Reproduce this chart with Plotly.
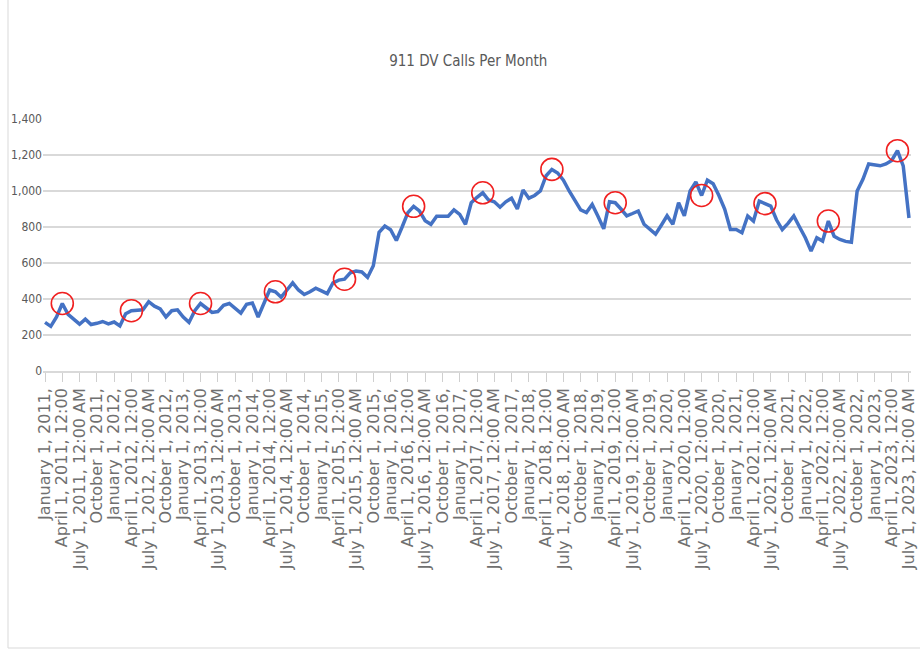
import plotly.graph_objects as go
import pandas as pd

# Monthly categories: January 2011 .. July 2023
months = pd.date_range("2011-01-01", "2023-07-01", freq="MS")

calls = [
    270, 248, 300, 375, 315, 290, 260, 288, 258, 265, 275, 262,   # 2011
    272, 250, 318, 335, 338, 340, 385, 360, 345, 300, 335, 340,   # 2012
    300, 270, 335, 375, 350, 325, 330, 365, 375, 350, 322, 370,   # 2013
    378, 300, 380, 450, 440, 410, 450, 490, 450, 425, 440, 460,   # 2014
    445, 430, 490, 505, 510, 545, 555, 550, 520, 585, 770, 805,   # 2015
    785, 725, 800, 880, 915, 890, 835, 815, 860, 862, 860, 895,   # 2016
    870, 815, 935, 965, 990, 950, 940, 910, 940, 960, 900, 1005,  # 2017
    960, 975, 1000, 1085, 1120, 1100, 1060, 1000, 945, 895, 880, 925,  # 2018
    860, 790, 940, 935, 900, 862, 875, 889, 815, 790, 760, 810,   # 2019
    862, 815, 935, 862, 1000, 1050, 975, 1060, 1040, 975, 900, 786,  # 2020
    786, 768, 861, 833, 944, 930, 916, 840, 786, 820, 861, 800,   # 2021
    740, 666, 740, 722, 833, 749, 731, 720, 715, 1000, 1065, 1150,  # 2022
    1145, 1140, 1150, 1170, 1224, 1140, 850,                      # 2023
]

# indices of the hand-marked peaks (red circles)
circled = [3, 15, 27, 40, 52, 64, 76, 88, 99, 114, 125, 136, 148]

y_ticks = [0, 200, 400, 600, 800, 1000, 1200, 1400]

suffix = {1: "", 4: " 12:00", 7: " 12:00 AM", 10: ""}
tick_idx = [i for i, m in enumerate(months) if m.month in (1, 4, 7, 10)]
tick_text = [f"{months[i].strftime('%B')} 1, {months[i].year},{suffix[months[i].month]}"
             for i in tick_idx]

x = list(range(len(months)))

fig = go.Figure()
fig.add_trace(go.Scatter(
    x=x, y=calls, mode="lines",
    line=dict(color="#4472C4", width=3.5),
    hoverinfo="skip", showlegend=False,
))
fig.add_trace(go.Scatter(
    x=circled, y=[calls[i] for i in circled], mode="markers",
    marker=dict(symbol="circle-open", size=22, color="#F02020",
                line=dict(width=1.6, color="#F02020")),
    hoverinfo="skip", showlegend=False,
))

narrow = "DejaVu Sans Condensed, Liberation Sans Narrow, Arial Narrow, sans-serif"

fig.update_layout(
    width=920, height=654,
    margin=dict(l=43, r=9, t=119, b=283),
    paper_bgcolor="white", plot_bgcolor="white",
    title=dict(text="911 DV Calls Per Month", x=0.509, xanchor="center",
               y=1 - 61 / 654, yanchor="middle",
               font=dict(family=narrow, size=15, color="#595959")),
    xaxis=dict(
        range=[-0.35, len(months) - 1 + 0.35],
        tickmode="array", tickvals=tick_idx, ticktext=tick_text,
        tickangle=-90, ticklabeloverflow="allow",
        tickfont=dict(family="DejaVu Sans", size=16, color="#707070"),
        showgrid=False, zeroline=False,
        showline=True, linecolor="#d9d9d9", linewidth=1.5,
        ticks="outside", ticklen=9, tickcolor="#cfcfcf", tickwidth=1,
        automargin=False,
    ),
    yaxis=dict(
        range=[0, 1400], tickmode="array", tickvals=y_ticks,
        tickformat=",d",
        tickfont=dict(family=narrow, size=12, color="#595959"),
        showgrid=True, gridcolor="#d9d9d9", gridwidth=1.5,
        zeroline=False, showline=False, ticks="",
        automargin=False,
    ),
    shapes=[dict(type="rect", xref="paper", yref="paper",
                 x0=(8 - 43) / 868, x1=(930 - 43) / 868,
                 y0=(371 - 648) / 252, y1=(371 + 10) / 252,
                 line=dict(color="#d9d9d9", width=1), layer="below")],
)

fig.write_html("out.html")
